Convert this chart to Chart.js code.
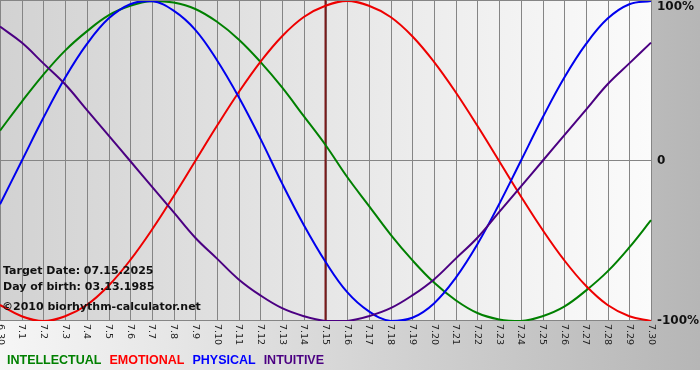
<!DOCTYPE html>
<html>
<head>
<meta charset="utf-8">
<script src="https://cdn.jsdelivr.net/npm/chart.js@4.4.1/dist/chart.umd.min.js"></script>
<style>
  html, body { margin: 0; padding: 0; background: #fff; }
  #wrap { width: 700px; height: 380px; }
</style>
</head>
<body>
<div id="wrap"><canvas id="bio-chart" width="700" height="380"></canvas></div>
<script>
// --- Data (one value per day, 6.30 .. 7.30) ---
const DAYS = ['6.30', '7.1', '7.2', '7.3', '7.4', '7.5', '7.6', '7.7', '7.8', '7.9', '7.10',
    '7.11', '7.12', '7.13', '7.14', '7.15', '7.16', '7.17', '7.18', '7.19', '7.20',
    '7.21', '7.22', '7.23', '7.24', '7.25', '7.26', '7.27', '7.28', '7.29', '7.30'];

const INTELLECTUAL = [0.19, 0.37, 0.54, 0.69, 0.81, 0.91, 0.97, 1.00, 0.99, 0.95, 0.87,
    0.76, 0.62, 0.46, 0.28, 0.10, -0.10, -0.28, -0.46, -0.62, -0.76,
    -0.87, -0.95, -0.99, -1.00, -0.97, -0.91, -0.81, -0.69, -0.54, -0.37];

const EMOTIONAL = [-0.90, -0.97, -1.00, -0.97, -0.90, -0.78, -0.62, -0.43, -0.22, 0.00, 0.22,
    0.43, 0.62, 0.78, 0.90, 0.97, 1.00, 0.97, 0.90, 0.78, 0.62,
    0.43, 0.22, 0.00, -0.22, -0.43, -0.62, -0.78, -0.90, -0.97, -1.00];

const PHYSICAL = [-0.27, 0.00, 0.27, 0.52, 0.73, 0.89, 0.98, 1.00, 0.94, 0.82, 0.63,
    0.40, 0.14, -0.14, -0.40, -0.63, -0.82, -0.94, -1.00, -0.98, -0.89,
    -0.73, -0.52, -0.27, 0.00, 0.27, 0.52, 0.73, 0.89, 0.98, 1.00];

const INTUITIVE = [0.84, 0.74, 0.61, 0.48, 0.32, 0.16, 0.00, -0.16, -0.32, -0.48, -0.61,
    -0.74, -0.84, -0.92, -0.97, -1.00, -1.00, -0.97, -0.92, -0.84, -0.74,
    -0.61, -0.48, -0.32, -0.16, 0.00, 0.16, 0.32, 0.48, 0.61, 0.74];

const Y_TICKS = [1, 0, -1];
const Y_TICK_LABELS = ['100%', '0', '-100%'];
const TARGET_DAY = '7.15';
const INFO_LINES = ['Target Date: 07.15.2025', 'Day of birth: 03.13.1985', '\u00A92010 biorhythm-calculator.net'];

const LEGEND = [
    { text: 'INTELLECTUAL', color: '#008000' },
    { text: 'EMOTIONAL', color: '#ff0000' },
    { text: 'PHYSICAL', color: '#0000ff' },
    { text: 'INTUITIVE', color: '#4b0082' }
];

const CHART_CANVAS = document.getElementById('bio-chart');

// backgrounds, grid and target line under the curves
const backdropPlugin = {
    id: 'backdrop',
    beforeDatasetsDraw(chart) {
        const { ctx, chartArea: a, scales: { x, y } } = chart;
        ctx.save();
        // outer panel gradient
        let g = ctx.createLinearGradient(0, 0, 700, 0);
        g.addColorStop(0, '#f6f6f6');
        g.addColorStop(1, '#b6b6b6');
        ctx.fillStyle = g;
        ctx.fillRect(0, 0, 700, 370);
        // plot area gradient
        g = ctx.createLinearGradient(a.left, 0, a.right, 0);
        g.addColorStop(0, '#d2d2d2');
        g.addColorStop(1, '#fbfbfb');
        ctx.fillStyle = g;
        ctx.fillRect(a.left, a.top - 1, a.right - a.left, a.bottom - a.top + 1);

        // vertical day lines
        ctx.strokeStyle = '#858585';
        ctx.lineWidth = 1;
        DAYS.forEach((d, i) => {
            const px = Math.round(x.getPixelForValue(i)) + 0.5;
            ctx.beginPath();
            ctx.moveTo(px, a.top - 1);
            ctx.lineTo(px, a.bottom);
            ctx.stroke();
        });
        // horizontal lines
        Y_TICKS.forEach(v => {
            const py = Math.round(y.getPixelForValue(v)) - 0.5;
            ctx.beginPath();
            ctx.moveTo(a.left, py);
            ctx.lineTo(a.right, py);
            ctx.stroke();
        });

        // target day marker
        const tx = x.getPixelForValue(DAYS.indexOf(TARGET_DAY));
        ctx.strokeStyle = '#7a1a1a';
        ctx.lineWidth = 2;
        ctx.beginPath();
        ctx.moveTo(tx, a.top - 1);
        ctx.lineTo(tx, a.bottom);
        ctx.stroke();
        ctx.restore();
    },
    afterDraw(chart) {
        const { ctx, chartArea: a, scales: { x, y } } = chart;
        ctx.save();
        // rotated day labels
        ctx.fillStyle = '#222';
        ctx.font = '9.5px "DejaVu Sans"';
        ctx.textAlign = 'left';
        ctx.textBaseline = 'middle';
        DAYS.forEach((d, i) => {
            ctx.save();
            ctx.translate(x.getPixelForValue(i), a.bottom + 3);
            ctx.rotate(Math.PI / 2);
            ctx.fillText(d, 0, 0);
            ctx.restore();
        });
        // right percent labels
        ctx.fillStyle = '#111';
        ctx.font = 'bold 12px "DejaVu Sans"';
        Y_TICKS.forEach((v, i) => {
            let py = y.getPixelForValue(v);
            if (v === 1) py += 6;
            ctx.fillText(Y_TICK_LABELS[i], a.right + 6, py);
        });
        // info text
        ctx.font = 'bold 11px "DejaVu Sans"';
        ctx.fillStyle = '#111';
        ctx.fillText(INFO_LINES[0], 3, 271);
        ctx.fillText(INFO_LINES[1], 3, 287);
        ctx.fillText(INFO_LINES[2], 2, 307);
        // legend
        ctx.font = 'bold 12.5px "Liberation Sans"';
        let lx = 7;
        LEGEND.forEach(item => {
            ctx.fillStyle = item.color;
            ctx.fillText(item.text, lx, 361);
            lx += ctx.measureText(item.text).width + 8;
        });
        ctx.restore();
    }
};

function makeSeries(label, data, color) {
    return {
        label,
        data,
        borderColor: color,
        borderWidth: 2,
        pointRadius: 0,
        fill: false,
        tension: 0.4
    };
}

new Chart(CHART_CANVAS, {
    type: 'line',
    data: {
        labels: DAYS,
        datasets: [
            makeSeries('INTUITIVE', INTUITIVE, '#4b0082'),
            makeSeries('PHYSICAL', PHYSICAL, '#0000ee'),
            makeSeries('EMOTIONAL', EMOTIONAL, '#ee0000'),
            makeSeries('INTELLECTUAL', INTELLECTUAL, '#008000')
        ]
    },
    options: {
        responsive: false,
        animation: false,
        layout: { padding: { left: 0, right: 49, top: 1, bottom: 59 } },
        plugins: { legend: { display: false }, tooltip: { enabled: false } },
        scales: {
            x: { display: false, offset: false },
            y: { display: false, min: -1, max: 1 }
        }
    },
    plugins: [backdropPlugin]
});
</script>
</body>
</html>
